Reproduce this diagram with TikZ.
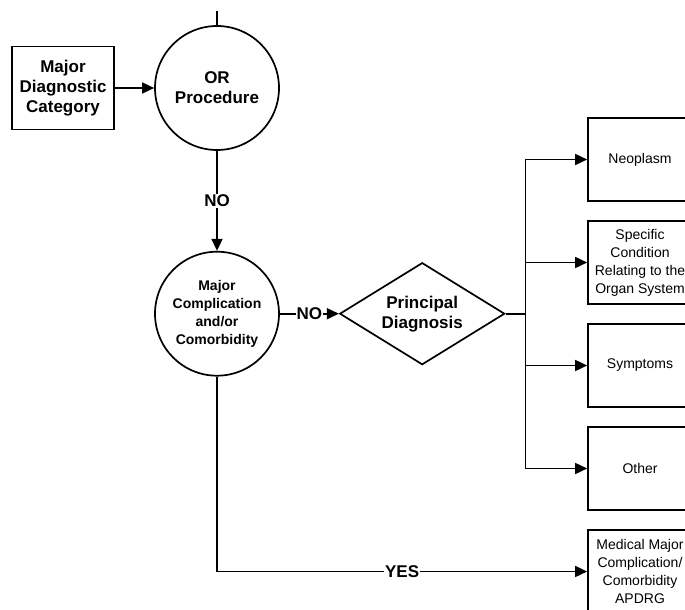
\documentclass[tikz,border=0pt]{standalone}
\usepackage{fontspec}
\setmainfont{Liberation Sans}
\usetikzlibrary{arrows.meta, positioning, shapes.geometric}

\begin{document}
\begin{tikzpicture}[x=1bp, y=-1bp,
        category/.style={rectangle, draw, line width=1.7bp, align=center, minimum width=102bp, minimum height=83bp, inner sep=1bp, font=\bfseries\fontsize{17bp}{20bp}\selectfont},
        question/.style={circle, draw, line width=1.7bp, align=center, minimum size=124bp, inner sep=0pt},
        decision/.style={diamond, draw, line width=1.7bp, align=center, aspect=1.6, minimum width=165bp, minimum height=102bp, inner sep=0pt, font=\bfseries\fontsize{17bp}{20bp}\selectfont},
        outcome/.style={rectangle, draw, line width=1.7bp, align=center, minimum width=104bp, minimum height=83bp, inner sep=1bp, font=\fontsize{14bp}{18bp}\selectfont},
        arrow/.style={-{Triangle[length=12bp, width=11bp]}, line width=1.7bp},
        link/.style={line width=1.7bp},
        answer/.style={fill=white, inner sep=1bp, font=\bfseries\fontsize{17bp}{20bp}\selectfont},
        node distance=18.3bp
        ]

        \useasboundingbox (0,0) rectangle (685,610);
        \clip (0,0) rectangle (685,610);

        % Nodes
        \node (mdc) [category] at (63,88) {Major\\Diagnostic\\Category};
        \node (orproc) [question, font=\bfseries\fontsize{17bp}{20bp}\selectfont] at (217,88) {OR\\Procedure};
        \node (mcc) [question, below=100bp of orproc, font=\bfseries\fontsize{14bp}{18bp}\selectfont] {Major\\Complication\\and/or\\Comorbidity};
        \node (pdx) [decision, right=59bp of mcc] {Principal\\Diagnosis};

        \node (neo) [outcome] at (640,159.5) {Neoplasm};
        \node (spec) [outcome, below=of neo] {Specific\\Condition\\Relating to the\\Organ System};
        \node (symp) [outcome, below=of spec] {Symptoms};
        \node (oth) [outcome, below=of symp] {Other};
        \node (mmc) [outcome, below=of oth] {Medical Major\\Complication/\\Comorbidity\\APDRG};

        \coordinate (entry) at (217,11);
        \coordinate (trunk) at ([xshift=20bp]pdx.east);

        % Arrows with labels
        \draw [link] (entry) -- (orproc);
        \draw [arrow] (mdc) -- (orproc);
        \draw [arrow] (orproc) -- node[answer] {NO} (mcc);
        \draw [arrow] (mcc) -- node[answer] {NO} (pdx);
        \draw [link] (pdx) -- (trunk);
        \draw [link, line cap=rect] (trunk |- neo) -- (trunk |- oth);
        \foreach \target in {neo, spec, symp, oth}
            \draw [arrow] (trunk |- \target) -- (\target);
        \draw [arrow] (mcc) |- node[answer, pos=0.75] {YES} (mmc);

    \end{tikzpicture}
\end{document}
